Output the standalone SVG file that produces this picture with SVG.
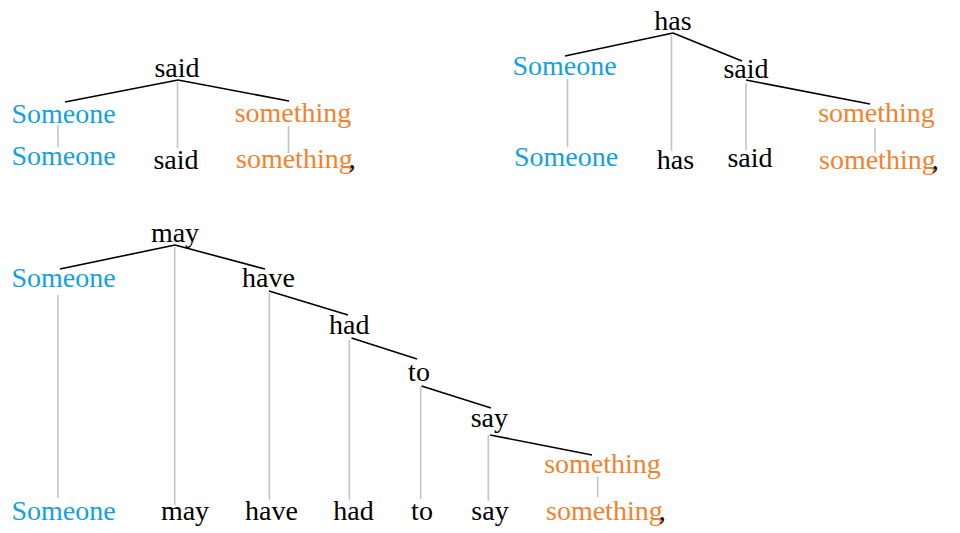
<svg xmlns="http://www.w3.org/2000/svg" width="960" height="533" viewBox="0 0 960 533">
<style>
text{font-family:"Liberation Serif","Times New Roman",serif;font-size:28px;text-anchor:middle;fill:#000}
.b{fill:#12a0e0}
.o{fill:#f5812f}
.k{fill:#000}
.e{stroke:#000;stroke-width:1.6;fill:none}
.g{stroke:#c4c4c4;stroke-width:1.6;fill:none}
</style>
<rect width="960" height="533" fill="#fff"/>
<g id="connectors">
<line class="e" x1="178" y1="80" x2="65" y2="102"/>
<line class="e" x1="178" y1="80" x2="289" y2="101"/>
<line class="g" x1="177.5" y1="82" x2="177.5" y2="148"/>
<line class="g" x1="58" y1="125" x2="58" y2="147"/>
<line class="g" x1="288.5" y1="126" x2="288.5" y2="153"/>
<line class="e" x1="673" y1="33" x2="565" y2="56"/>
<line class="e" x1="673" y1="33" x2="742" y2="61"/>
<line class="g" x1="671.5" y1="35" x2="671.5" y2="151"/>
<line class="g" x1="567.5" y1="79" x2="567.5" y2="147"/>
<line class="e" x1="746" y1="80" x2="870" y2="104"/>
<line class="g" x1="746" y1="83" x2="746" y2="150"/>
<line class="g" x1="875" y1="128" x2="875" y2="153"/>
<line class="e" x1="175" y1="245" x2="60" y2="269"/>
<line class="e" x1="175" y1="245" x2="265" y2="269"/>
<line class="g" x1="174.7" y1="247" x2="174.7" y2="505"/>
<line class="g" x1="58" y1="295" x2="58" y2="498"/>
<line class="e" x1="269" y1="291" x2="348" y2="315"/>
<line class="g" x1="269.3" y1="293" x2="269.3" y2="500"/>
<line class="e" x1="351.5" y1="338" x2="417" y2="359"/>
<line class="g" x1="349.3" y1="340" x2="349.3" y2="500"/>
<line class="e" x1="421.5" y1="386" x2="491" y2="408"/>
<line class="g" x1="420.7" y1="387" x2="420.7" y2="499"/>
<line class="e" x1="490" y1="435" x2="592" y2="455"/>
<line class="g" x1="488.3" y1="435" x2="488.3" y2="501"/>
<line class="g" x1="597.7" y1="477" x2="597.7" y2="497"/>
</g>
<g id="tree1">
<text id="t1-said" x="177" y="77">said</text>
<text id="t1-someone" class="b" x="63.5" y="123">Someone</text>
<text id="t1-something" class="o" x="293" y="122">something</text>
<text id="t1-w-someone" class="b" x="63.5" y="165">Someone</text>
<text id="t1-w-said" x="176" y="169">said</text>
<text id="t1-w-something" x="236" y="168" style="text-anchor:start"><tspan class="o">something</tspan><tspan class="k" dx="-4">,</tspan></text>
</g>
<g id="tree2">
<text id="t2-has" x="673" y="30">has</text>
<text id="t2-someone" class="b" x="564.5" y="75">Someone</text>
<text id="t2-said" x="746" y="78">said</text>
<text id="t2-something" class="o" x="876.5" y="122">something</text>
<text id="t2-w-someone" class="b" x="566" y="166">Someone</text>
<text id="t2-w-has" x="675.5" y="169">has</text>
<text id="t2-w-said" x="750" y="167">said</text>
<text id="t2-w-something" x="819" y="169" style="text-anchor:start"><tspan class="o">something</tspan><tspan class="k" dx="-4">,</tspan></text>
</g>
<g id="tree3">
<text id="t3-may" x="175" y="242">may</text>
<text id="t3-someone" class="b" x="63.5" y="287">Someone</text>
<text id="t3-have" x="268.5" y="287">have</text>
<text id="t3-had" x="349.3" y="334">had</text>
<text id="t3-to" x="419" y="381">to</text>
<text id="t3-say" x="489.3" y="427">say</text>
<text id="t3-something" class="o" x="602.5" y="473">something</text>
<text id="t3-w-someone" class="b" x="63.5" y="520">Someone</text>
<text id="t3-w-may" x="185" y="520">may</text>
<text id="t3-w-have" x="271.5" y="520">have</text>
<text id="t3-w-had" x="353.5" y="520">had</text>
<text id="t3-w-to" x="422" y="520">to</text>
<text id="t3-w-say" x="490" y="520">say</text>
<text id="t3-w-something" x="546" y="520" style="text-anchor:start"><tspan class="o">something</tspan><tspan class="k" dx="-4">,</tspan></text>
</g>
</svg>
